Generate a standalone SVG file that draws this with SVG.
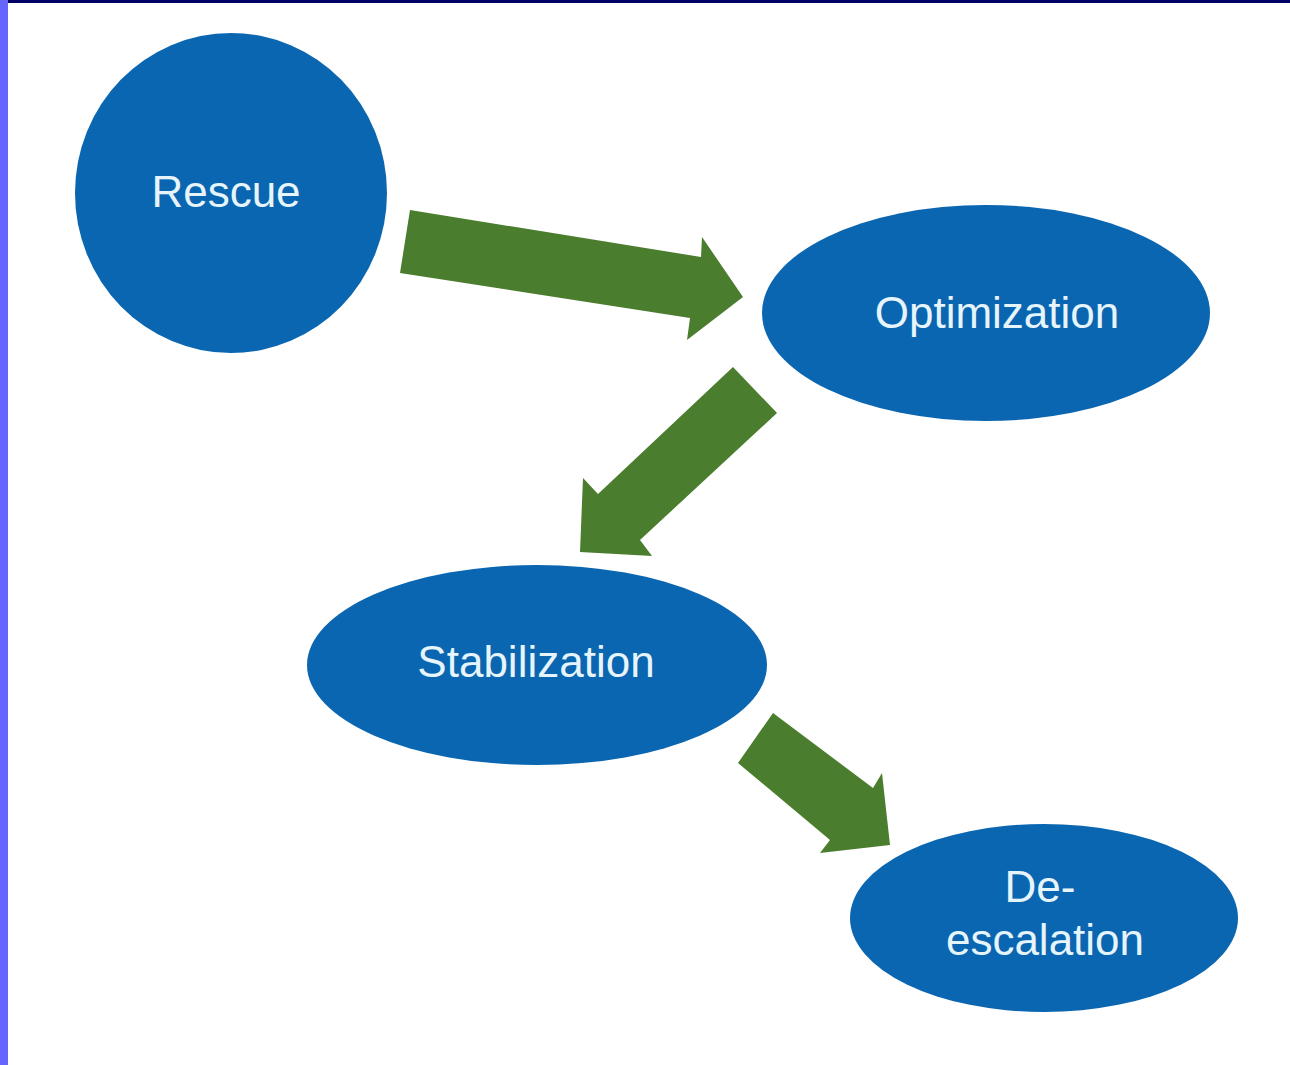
<svg xmlns="http://www.w3.org/2000/svg" width="1290" height="1065" viewBox="0 0 1290 1065">
<style>
.node{fill:#0a66b0;}
.lbl{font-family:"Liberation Sans",Arial,sans-serif;font-size:44px;fill:#e6f4fb;text-anchor:middle;}
.arr{fill:#4b7d2f;}
</style>
<rect x="0" y="0" width="1290" height="1065" fill="#ffffff"/>
<rect x="0" y="0" width="1290" height="3" fill="#000066"/>
<rect x="0" y="0" width="8" height="1065" fill="#6666ff"/>
<g id="connectors">
<polygon class="arr" points="410,210 701,257 702,237 743,297 687,340 690,318 400,273"/>
<polygon class="arr" points="733,367 777,413 640,540 652,556 580,552 583,478 598,494"/>
<polygon class="arr" points="773,713 873,788 882,773 890,845 820,853 830,840 738,763"/>
</g>
<g id="rescue">
<ellipse class="node" cx="231" cy="193" rx="156" ry="160"/>
<text class="lbl" x="226" y="207">Rescue</text>
</g>
<g id="optimization">
<ellipse class="node" cx="986" cy="313" rx="224" ry="108"/>
<text class="lbl" x="997" y="328">Optimization</text>
</g>
<g id="stabilization">
<ellipse class="node" cx="537" cy="665" rx="230" ry="100"/>
<text class="lbl" x="536" y="677">Stabilization</text>
</g>
<g id="deescalation">
<ellipse class="node" cx="1044" cy="918" rx="194" ry="94"/>
<text class="lbl" x="1040" y="902">De-</text>
<text class="lbl" x="1045" y="955">escalation</text>
</g>
</svg>
